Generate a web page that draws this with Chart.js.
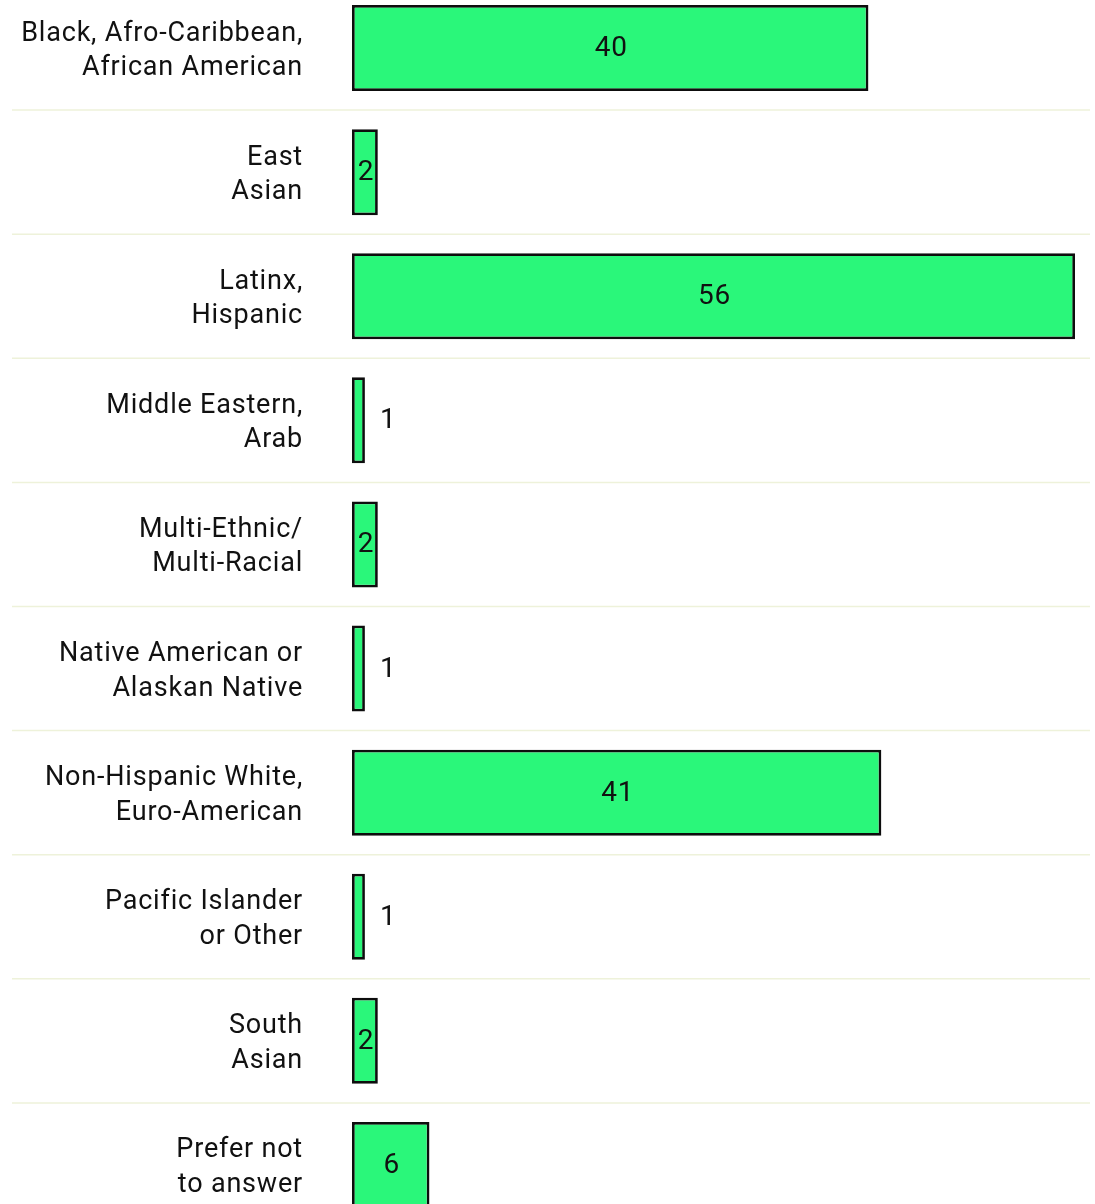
<!DOCTYPE html>
<html>
<head>
<meta charset="utf-8">
<script src="https://cdn.jsdelivr.net/npm/chart.js@4.4.1/dist/chart.umd.min.js"></script>
<style>
  html, body { margin: 0; padding: 0; background: #ffffff; overflow: hidden; }
  #wrap { position: absolute; left: 0; top: -14px; width: 1095px; height: 1241px; }
</style>
</head>
<body>
<div id="wrap"><canvas id="c" width="1095" height="1241"></canvas></div>
<script>
// ---- Data ----
const categories = [
  ["Black, Afro-Caribbean,", "African American"],
  ["East", "Asian"],
  ["Latinx,", "Hispanic"],
  ["Middle Eastern,", "Arab"],
  ["Multi-Ethnic/", "Multi-Racial"],
  ["Native American or", "Alaskan Native"],
  ["Non-Hispanic White,", "Euro-American"],
  ["Pacific Islander", "or Other"],
  ["South", "Asian"],
  ["Prefer not", "to answer"]
];
const counts = [40, 2, 56, 1, 2, 1, 41, 1, 2, 6];

// ---- Styles ----
const FONT = "Roboto, 'Noto Sans', sans-serif";
const BAR_FILL = "#2af77a";
const BAR_BORDER = "#0d0d0d";
const SEP_COLOR = "#eef2da";
const TEXT_COLOR = "#111111";
const LETTER_SPACING = "0.8px";

const spacingPlugin = {
  id: "spacing",
  beforeUpdate(chart) { chart.ctx.letterSpacing = LETTER_SPACING; },
  beforeDraw(chart) { chart.ctx.letterSpacing = LETTER_SPACING; }
};

const separatorPlugin = {
  id: "separators",
  beforeDatasetsDraw(chart) {
    const ys = chart.scales.y;
    const ctx = chart.ctx;
    ctx.save();
    ctx.strokeStyle = SEP_COLOR;
    ctx.lineWidth = 1.5;
    for (let i = 0; i < categories.length - 1; i++) {
      const y = (ys.getPixelForValue(i) + ys.getPixelForValue(i + 1)) / 2;
      ctx.beginPath();
      ctx.moveTo(12, y);
      ctx.lineTo(1090, y);
      ctx.stroke();
    }
    ctx.restore();
  }
};

const valueLabelPlugin = {
  id: "valueLabels",
  afterDatasetsDraw(chart) {
    const ctx = chart.ctx;
    const meta = chart.getDatasetMeta(0);
    ctx.save();
    ctx.font = "28px " + FONT;
    ctx.fillStyle = TEXT_COLOR;
    ctx.textBaseline = "middle";
    meta.data.forEach((bar, i) => {
      const txt = String(counts[i]);
      const w = ctx.measureText(txt).width;
      const barW = bar.x - bar.base;
      if (barW > w + 6) {
        ctx.textAlign = "center";
        ctx.fillText(txt, (bar.x + bar.base) / 2 + 1, bar.y + 1);
      } else {
        ctx.textAlign = "left";
        ctx.fillText(txt, bar.x + 15, bar.y + 1);
      }
    });
    ctx.restore();
  }
};

new Chart(document.getElementById("c"), {
  type: "bar",
  data: {
    labels: categories,
    datasets: [{
      data: counts,
      backgroundColor: BAR_FILL,
      borderColor: BAR_BORDER,
      borderWidth: 2.75,
      borderSkipped: false,
      categoryPercentage: 1,
      barPercentage: 0.693
    }]
  },
  options: {
    indexAxis: "y",
    responsive: false,
    animation: false,
    layout: { padding: { left: 0, right: 20, top: 0, bottom: 0 } },
    plugins: { legend: { display: false }, tooltip: { enabled: false } },
    scales: {
      x: {
        display: false,
        min: 0,
        max: Math.max(...counts)
      },
      y: {
        position: "left",
        grid: { display: false, drawTicks: false },
        border: { display: false },
        ticks: {
          padding: 49,
          labelOffset: 3,
          color: TEXT_COLOR,
          font: { family: FONT, size: 27, lineHeight: 1.28 }
        },
        afterFit(scale) {
          scale.width = 352;
          scale.paddingTop = 0;
          scale.paddingBottom = 0;
        }
      }
    }
  },
  plugins: [spacingPlugin, separatorPlugin, valueLabelPlugin]
});
</script>
</body>
</html>
